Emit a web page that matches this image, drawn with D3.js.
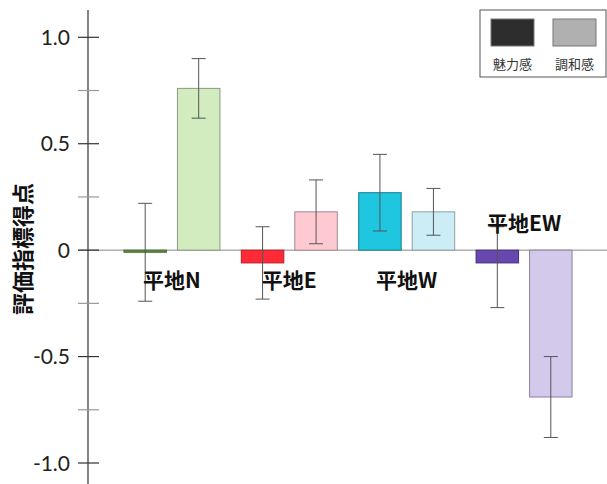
<!DOCTYPE html>
<meta charset="utf-8">
<style>
    body { margin: 0; background: #fff; }
    text { font-family: "Noto Sans CJK JP", "Noto Sans", sans-serif; }
    .tick-label { font-family: Lato, "Noto Sans", sans-serif; font-size: 21px; fill: #222; }
    .cat-label { font-size: 21px; font-weight: bold; fill: #111; }
</style>
<body>
<script src="https://d3js.org/d3.v7.min.js"></script>
<script>
var groups = ["平地N", "平地E", "平地W", "平地EW"];
var series = ["魅力感", "調和感"];
var miryoku = [-0.01, -0.06, 0.27, -0.06];
var miryokuLo = [-0.24, -0.23, 0.09, -0.27];
var miryokuHi = [0.22, 0.11, 0.45, 0.11];
var chowa = [0.76, 0.18, 0.18, -0.69];
var chowaLo = [0.62, 0.03, 0.07, -0.88];
var chowaHi = [0.90, 0.33, 0.29, -0.50];
var fills = [["#5d8b3e", "#d2ecbf"], ["#ff2a35", "#ffc9d1"], ["#1ec6df", "#ccedf6"], ["#6847af", "#d2c9eb"]];
var strokes = [["#4a6e33", "#8a9a80"], ["#b0222a", "#a08a8e"], ["#197e8e", "#8aa0a6"], ["#45307a", "#8a82a0"]];
var majorTicks = [1.0, 0.5, 0, -0.5, -1.0];
var majorLabels = ["1.0", "0.5", "0", "-0.5", "-1.0"];
var minorTicks = [0.75, 0.25, -0.25, -0.75];
var labelRaise = [false, false, false, true];

var svg = d3.select("body").append("svg").attr("width", 607).attr("height", 484);

var y = d3.scaleLinear().domain([-1, 1]).range([463, 37.3]);
var x0 = d3.scaleBand().domain(groups).range([113.25, 582.75]).padding(0);
var x1 = d3.scaleBand().domain(series).range([0, 96]).paddingInner(0.2056).paddingOuter(0);

// zero line
svg.append("line").attr("x1", 78).attr("x2", 607).attr("y1", y(0)).attr("y2", y(0))
    .attr("stroke", "#888").attr("stroke-width", 1);

var rows = groups.map(function(g, i) {
    return [
        {g: g, s: series[0], v: miryoku[i], lo: miryokuLo[i], hi: miryokuHi[i], fill: fills[i][0], stroke: strokes[i][0]},
        {g: g, s: series[1], v: chowa[i], lo: chowaLo[i], hi: chowaHi[i], fill: fills[i][1], stroke: strokes[i][1]}
    ];
}).flat();

function bx(d) { return x0(d.g) + x0.bandwidth() / 2 - 48 + x1(d.s); }

svg.selectAll("rect.bar").data(rows).enter().append("rect").attr("class", "bar")
    .attr("x", bx)
    .attr("width", x1.bandwidth())
    .attr("y", d => Math.min(y(d.v), y(0)))
    .attr("height", d => Math.max(Math.abs(y(d.v) - y(0)), 1.5))
    .attr("fill", d => d.fill)
    .attr("stroke", d => d.stroke)
    .attr("stroke-width", 1);

// error bars
var eb = svg.selectAll("g.err").data(rows).enter().append("g").attr("class", "err")
    .attr("stroke", "#555").attr("stroke-width", 1);
eb.append("line").attr("x1", d => bx(d) + x1.bandwidth() / 2).attr("x2", d => bx(d) + x1.bandwidth() / 2)
    .attr("y1", d => y(d.hi)).attr("y2", d => y(d.lo));
eb.append("line").attr("x1", d => bx(d) + x1.bandwidth() / 2 - 7).attr("x2", d => bx(d) + x1.bandwidth() / 2 + 7)
    .attr("y1", d => y(d.hi)).attr("y2", d => y(d.hi));
eb.append("line").attr("x1", d => bx(d) + x1.bandwidth() / 2 - 7).attr("x2", d => bx(d) + x1.bandwidth() / 2 + 7)
    .attr("y1", d => y(d.lo)).attr("y2", d => y(d.lo));

// category labels
svg.selectAll("text.cat-label").data(groups).enter().append("text").attr("class", "cat-label")
    .attr("x", d => x0(d) + x0.bandwidth() / 2)
    .attr("y", (d, i) => labelRaise[i] ? 231 : 288)
    .attr("text-anchor", "middle")
    .text(d => d);

// y axis
var axisX = 88;
svg.append("line").attr("x1", axisX).attr("x2", axisX).attr("y1", 10).attr("y2", 484)
    .attr("stroke", "#333").attr("stroke-width", 1.2);
svg.selectAll("line.minor").data(minorTicks).enter().append("line").attr("class", "minor")
    .attr("x1", 78).attr("x2", 99).attr("y1", d => y(d)).attr("y2", d => y(d))
    .attr("stroke", "#999").attr("stroke-width", 1.2);
svg.selectAll("line.major").data(majorTicks).enter().append("line").attr("class", "major")
    .attr("x1", 78).attr("x2", 99).attr("y1", d => y(d)).attr("y2", d => y(d))
    .attr("stroke", "#333").attr("stroke-width", 1.2);
svg.selectAll("text.tick-label").data(majorTicks).enter().append("text").attr("class", "tick-label")
    .attr("x", 70).attr("y", d => y(d)).attr("dy", "0.36em")
    .attr("text-anchor", "end")
    .text((d, i) => majorLabels[i]);

svg.append("text")
    .attr("transform", "translate(23,249) rotate(-90)")
    .attr("text-anchor", "middle").attr("dy", "0.35em")
    .style("font-size", "22px").style("font-weight", "bold").style("fill", "#111")
    .text("評価指標得点");

// legend
var lg = svg.append("g").attr("transform", "translate(480,10)");
lg.append("rect").attr("width", 126).attr("height", 67).attr("fill", "#fff").attr("stroke", "#555");
var legendFill = ["#2d2d2d", "#b0b0b0"];
series.forEach(function(s, i) {
    lg.append("rect").attr("x", 11 + i * 62).attr("y", 9).attr("width", 43).attr("height", 27)
        .attr("fill", legendFill[i]).attr("stroke", "#777");
    lg.append("text").attr("x", 32.5 + i * 62).attr("y", 59).attr("text-anchor", "middle")
        .style("font-size", "13px").style("fill", "#333").text(s);
});
</script>
</body>
